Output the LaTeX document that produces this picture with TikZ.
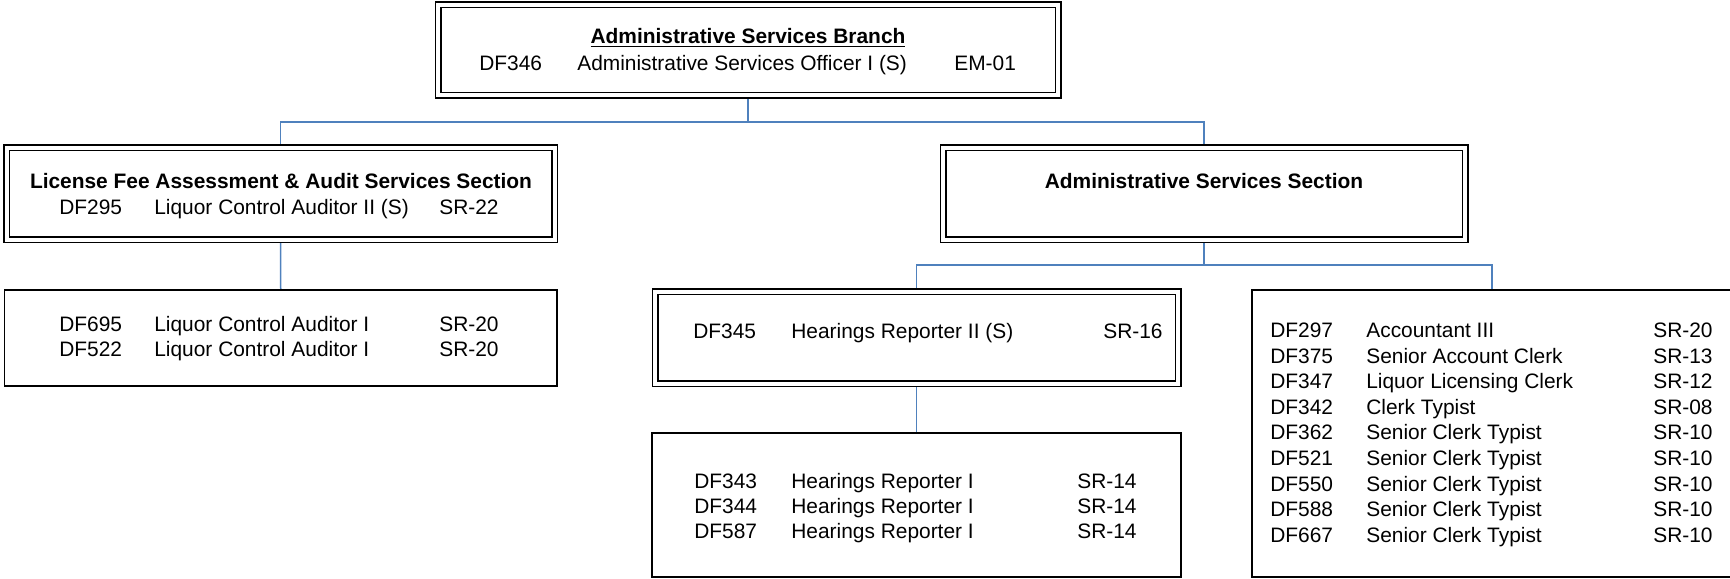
\documentclass[tikz,border=0pt]{standalone}
\usepackage{fontspec}
\setmainfont{Liberation Sans}
\usetikzlibrary{backgrounds}
\newlength\px
\setlength\px{0.02cm}
\newcommand{\cell}[2]{\makebox[#1\px][l]{#2}}
\tikzset{
    unit/.style 2 args = {draw, fill = white, line width = 1.5\px, inner sep = 0pt,
        minimum width = #1\px, minimum height = #2\px},
    dbox/.style 2 args = {unit = {#1}{#2}, double, double distance = 4\px},
    sbox/.style 2 args = {unit = {#1}{#2}},
    link/.style = {draw = linkblue, line width = 1.5\px},
    txt/.style = {inner sep = 0pt, anchor = base west, font = \fontsize{11.9}{14}\selectfont},
    head/.style = {inner sep = 0pt, anchor = base, font = \fontsize{11.9}{14}\selectfont\bfseries}
}
\definecolor{linkblue}{HTML}{4F81BD}
\begin{document}
\begin{tikzpicture}[x = 1\px, y = -1\px]
    \useasboundingbox (0,0) rectangle (1730,578);
    \clip (0,0) rectangle (1730,578);

    % boxes
    \node[dbox = {620}{90.5}] (branch) at (748,49.75) {};
    \node[dbox = {548}{92}] (audit) at (280.5,193.5) {};
    \node[sbox = {552.5}{96}] (auditors) at (280.75,338) {};
    \node[dbox = {522}{92}] (admin) at (1204,193.5) {};
    \node[dbox = {523}{92}] (hrtwo) at (916.5,337.5) {};
    \node[sbox = {529}{144}] (hrone) at (916.5,505) {};
    \node[sbox = {480}{287}] (clerks) at (1492,433.5) {};

    % connectors
    \coordinate (busA) at (748,122);
    \coordinate (busB) at (1204,265);
    \begin{scope}[on background layer]
        \draw[link] (branch.south) -- (busA);
        \draw[link] (audit.north) |- (busA) -| (admin.north);
        \draw[link] (audit.south) -- (auditors.north);
        \draw[link] (admin.south) -- (busB);
        \draw[link] (hrtwo.north) |- (busB) -| (clerks.north);
        \draw[link] (hrtwo.south) -- (hrone.north);
    \end{scope}

    % branch
    \node[head] (branchhead) at (748,43.5) {\underline{Administrative Services Branch}};
    \node[txt] (branchrow) at (479,70.5) {\cell{98}{DF346}\cell{377}{Administrative Services Officer I (S)}EM-01};

    % audit section
    \node[head] (audithead) at (281,188.5) {License Fee Assessment \& Audit Services Section};
    \node[txt] (auditrow) at (59,214.5) {\cell{95}{DF295}\cell{285}{Liquor Control Auditor II (S)}SR-22};
    \node[txt] (auditorA) at (59,331.5) {\cell{95}{DF695}\cell{285}{Liquor Control Auditor I}SR-20};
    \node[txt] (auditorB) at (59,356.5) {\cell{95}{DF522}\cell{285}{Liquor Control Auditor I}SR-20};

    % admin section
    \node[head] (adminhead) at (1204,188.5) {Administrative Services Section};

    % hearings
    \node[txt] (hrtworow) at (693,338.5) {\cell{98}{DF345}\cell{312}{Hearings Reporter II (S)}SR-16};
    \node[txt] (hroneA) at (694,488.5) {\cell{97}{DF343}\cell{286}{Hearings Reporter I}SR-14};
    \node[txt] (hroneB) at (694,513.5) {\cell{97}{DF344}\cell{286}{Hearings Reporter I}SR-14};
    \node[txt] (hroneC) at (694,538.5) {\cell{97}{DF587}\cell{286}{Hearings Reporter I}SR-14};

    % clerks
    \node[txt] (clerkA) at (1270,337.5) {\cell{96}{DF297}\cell{287}{Accountant III}SR-20};
    \node[txt] (clerkB) at (1270,363.1) {\cell{96}{DF375}\cell{287}{Senior Account Clerk}SR-13};
    \node[txt] (clerkC) at (1270,388.7) {\cell{96}{DF347}\cell{287}{Liquor Licensing Clerk}SR-12};
    \node[txt] (clerkD) at (1270,414.3) {\cell{96}{DF342}\cell{287}{Clerk Typist}SR-08};
    \node[txt] (clerkE) at (1270,439.9) {\cell{96}{DF362}\cell{287}{Senior Clerk Typist}SR-10};
    \node[txt] (clerkF) at (1270,465.5) {\cell{96}{DF521}\cell{287}{Senior Clerk Typist}SR-10};
    \node[txt] (clerkG) at (1270,491.1) {\cell{96}{DF550}\cell{287}{Senior Clerk Typist}SR-10};
    \node[txt] (clerkH) at (1270,516.7) {\cell{96}{DF588}\cell{287}{Senior Clerk Typist}SR-10};
    \node[txt] (clerkI) at (1270,542.3) {\cell{96}{DF667}\cell{287}{Senior Clerk Typist}SR-10};
\end{tikzpicture}
\end{document}
